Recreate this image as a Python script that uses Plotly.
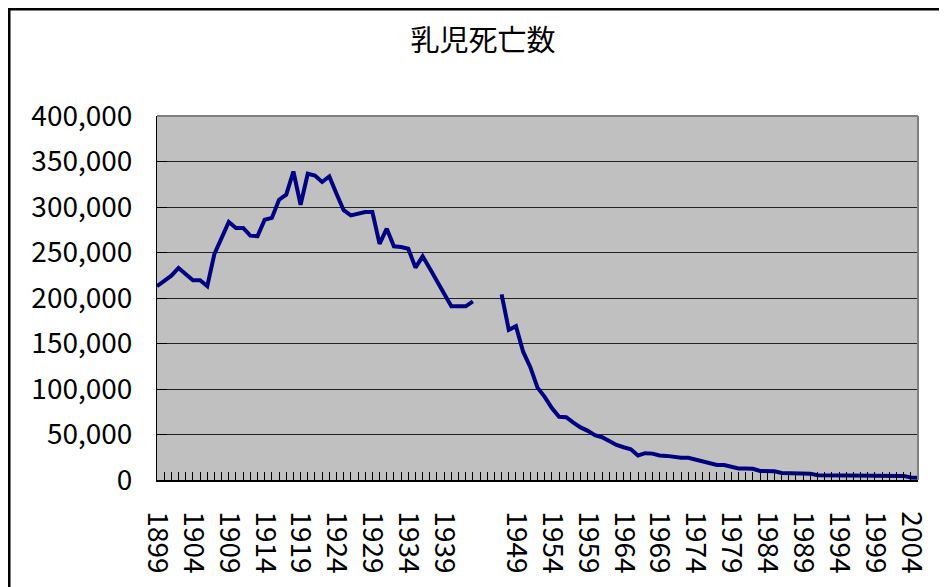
import plotly.graph_objects as go

years = list(range(1899, 2006))

infant_deaths = [
    213000, 219000, 224500, 233000, 225500, 219500, 219500, 213000, 248500, 267000,  # 1899-1908
    283500, 277000, 277000, 268500, 268000, 286000, 288000, 308000, 313500, 339000,  # 1909-1918
    302500, 336500, 334500, 327500, 333500, 314500, 296500, 290800, 292600, 294400,  # 1919-1928
    294400, 259500, 276200, 256800, 256000, 254200, 233400, 245800, 232300, 219400,  # 1929-1938
    204800, 190900, 190900, 190900, 196400, None, None, None, 204000, 165000,        # 1939-1948
    169000, 141000, 124000, 101500, 91400, 79000, 69400, 69000, 63000, 57800,        # 1949-1958
    54000, 49300, 47000, 42500, 38500, 36000, 33700, 27000, 29500, 29000,            # 1959-1968
    27000, 26500, 25000, 24500, 24500, 22500, 20000, 18000, 16500, 16500,            # 1969-1978
    14500, 12700, 12700, 12300, 10000, 9800, 9500, 7800, 7600, 7500,                 # 1979-1988
    7400, 7000, 5200, 5100, 5000, 5000, 5000, 5000, 4900, 4900,                      # 1989-1998
    4800, 4800, 4700, 4600, 4500, 2800, 2400,                                        # 1999-2005
]

tick_years = [1899, 1904, 1909, 1914, 1919, 1924, 1929, 1934, 1939,
              1949, 1954, 1959, 1964, 1969, 1974, 1979, 1984, 1989, 1994, 1999, 2004]
tick_labels = [str(y) for y in tick_years]

y_ticks = list(range(0, 400001, 50000))
y_tick_labels = [f"{v:,}" for v in y_ticks]

title_text = "乳児死亡数"

fig = go.Figure()
fig.add_trace(go.Scatter(
    x=years, y=infant_deaths, mode="lines",
    line=dict(color="#000080", width=4),
    connectgaps=False, hoverinfo="x+y",
))

# page body has an 8px margin; work in screen pixels and shift
OFF = 8
W, H = 947, 587
PL, PR, PT, PB = 157 - OFF, 918 - OFF, 116 - OFF, 480 - OFF
pw, ph = PR - PL, PB - PT

def px_to_paper_x(sx):
    return (sx - OFF - PL) / pw

def px_to_paper_y(sy):
    return (PB - (sy - OFF)) / ph

def ix(ix_):
    return (ix_ - PL) / pw

def iy(iy_):
    return (PB - iy_) / ph

fig.update_layout(
    width=W, height=H,
    margin=dict(l=PL, r=W - PR, t=PT, b=H - PB, pad=0),
    paper_bgcolor="white",
    plot_bgcolor="#C0C0C0",
    showlegend=False,
    font=dict(family="Noto Sans CJK JP", color="black"),
    title=dict(
        text=title_text, x=px_to_paper_x(483), xref="paper", xanchor="center",
        y=1 - (41 - OFF) / H, yanchor="middle",
        font=dict(size=29, family="Noto Sans CJK JP", color="black"),
    ),
    xaxis=dict(
        range=[1899, 2005], tickmode="array", tickvals=tick_years, ticktext=tick_labels,
        tickangle=90, ticks="inside", ticklen=8, tickcolor="black", tickwidth=1,
        minor=dict(ticks="inside", ticklen=8, tickcolor="black", tickwidth=1,
                   dtick=1, tick0=1899, showgrid=False),
        showgrid=False, zeroline=False, showline=True, linecolor="black", linewidth=1.5,
        tickfont=dict(size=28, family="Noto Sans CJK JP", color="black"),
        ticklabelstandoff=24,
    ),
    yaxis=dict(
        range=[0, 400000], tickmode="array", tickvals=y_ticks, ticktext=y_tick_labels,
        ticks="inside", ticklen=10, tickcolor="black", tickwidth=1,
        showgrid=True, gridcolor="#222222", gridwidth=1,
        zeroline=False, showline=True, linecolor="black", linewidth=1,
        tickfont=dict(size=28, family="Noto Sans CJK JP", color="black"),
        ticklabelstandoff=18,
    ),
    shapes=[
        dict(type="line", xref="paper", yref="paper", x0=0, x1=1, y0=1, y1=1,
             line=dict(color="#808080", width=2)),
        dict(type="line", xref="paper", yref="paper", x0=1, x1=1, y0=0, y1=1,
             line=dict(color="#808080", width=2)),
        dict(type="rect", xref="paper", yref="paper",
             x0=ix(1.25), x1=ix(990),
             y0=iy(640), y1=iy(1.25),
             line=dict(color="black", width=2.5), fillcolor="rgba(0,0,0,0)"),
    ],
)

fig.write_html("out.html")
